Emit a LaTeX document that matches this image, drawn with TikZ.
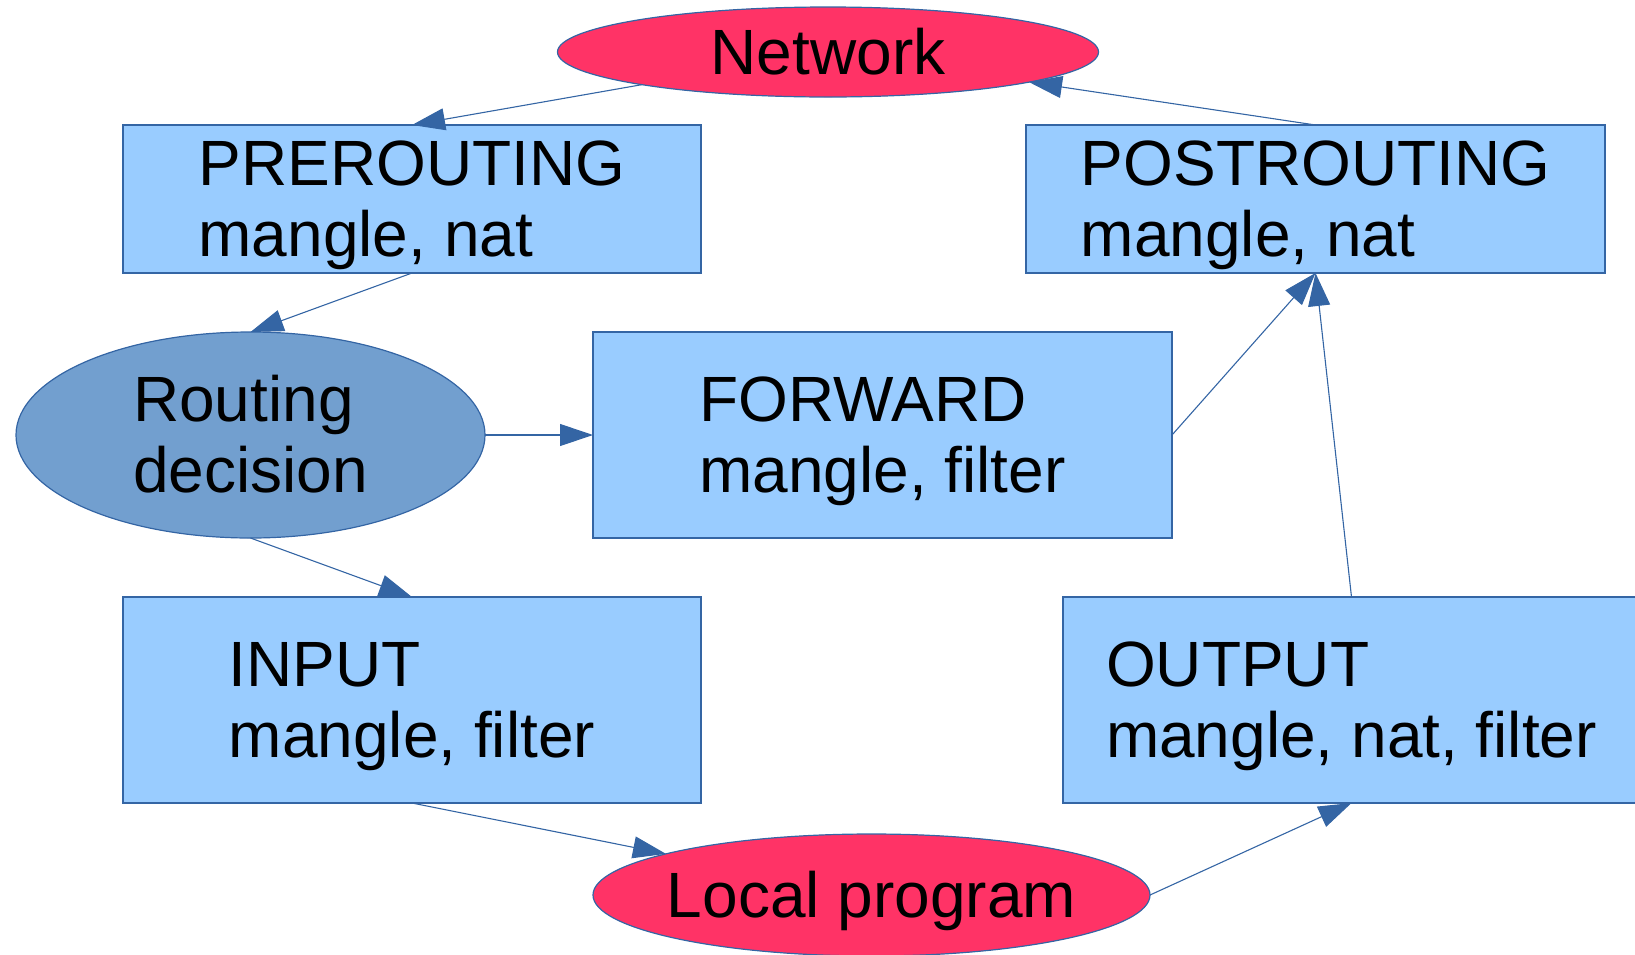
\documentclass[tikz,border=0pt]{standalone}
\usepackage{fontspec}
\setmainfont{Liberation Sans}
\usetikzlibrary{arrows.meta,shapes.geometric}
\definecolor{netred}{HTML}{FF3366}
\definecolor{chainfill}{HTML}{99CCFF}
\definecolor{edgeblue}{HTML}{3465A4}
\definecolor{decfill}{HTML}{729FCF}
% strut with the ascent and descent of the sans font
\newcommand\lnstrut{\rule[-0.21em]{0pt}{1.11em}}
\begin{document}
\begin{tikzpicture}[x=1pt,y=-1pt,
  every node/.style={inner sep=0pt,outer sep=0pt},
  txt/.style={font=\fontsize{64}{71.5}\selectfont,align=left},
  chain/.style={rectangle,draw=edgeblue,line width=1.2pt,fill=chainfill,txt},
  endpoint/.style={ellipse,draw=edgeblue,line width=1.2pt,fill=netred,txt},
  decision/.style={ellipse,draw=edgeblue,line width=1.2pt,fill=decfill,txt},
  flow/.style={draw=edgeblue,line width=1.1pt,-{Triangle[length=33pt,width=22pt]}}
]
\useasboundingbox (0,0) rectangle (1635,954);

% packet endpoints (text as centred labels so the ellipse keeps its size)
\node[endpoint,minimum width=541pt,minimum height=90pt,
      label={[txt]center:\lnstrut Network}] (net) at (828,52) {};
\node[endpoint,minimum width=557pt,minimum height=122pt,
      label={[txt]center:\lnstrut Local program}] (local) at (871.5,895) {};

% routing decision
\node[decision,minimum width=469pt,minimum height=206pt] (route) at (250.5,435)
  {\lnstrut Routing\\decision\lnstrut};

% netfilter chains
\node[chain,minimum width=578pt,minimum height=148pt] (pre) at (412,199)
  {\lnstrut PREROUTING\\mangle, nat\lnstrut};
\node[chain,minimum width=579pt,minimum height=148pt] (post) at (1315.5,199)
  {\lnstrut POSTROUTING\\mangle, nat\lnstrut};
\node[chain,minimum width=579pt,minimum height=206pt] (fwd) at (882.5,435)
  {\lnstrut FORWARD\\mangle, filter\lnstrut};
\node[chain,minimum width=578pt,minimum height=206pt] (input) at (412,700)
  {\lnstrut INPUT\\mangle, filter\lnstrut};
\node[chain,minimum width=577pt,minimum height=206pt] (output) at (1351.5,700)
  {\lnstrut OUTPUT\\mangle, nat, filter\lnstrut};

% packet flow
\draw[flow] (net) -- (pre.north);
\draw[flow] (pre.south) -- (route.north);
\draw[flow] (route.east) -- (fwd.west);
\draw[flow] (route.south) -- (input.north);
\draw[flow] (input.south) -- (local);
\draw[flow] (local.east) -- (output.south);
\draw[flow] (fwd.east) -- (post.south);
\draw[flow] (output.north) -- (post.south);
\draw[flow] (post.north) -- (net);
\end{tikzpicture}
\end{document}
